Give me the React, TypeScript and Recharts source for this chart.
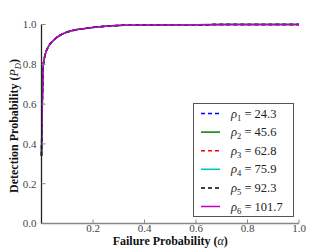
import { LineChart, Line, XAxis, YAxis, Legend } from "recharts";

// failure probability (alpha) sample points
const alphas = [0, 0.002, 0.004, 0.007, 0.0136, 0.026, 0.046, 0.072, 0.11, 0.162, 0.227, 0.32, 0.45, 0.6, 0.8, 1.0];

// detection probability per rho (curves overlap almost exactly)
const pd1 = [0.34, 0.52, 0.66, 0.795, 0.845, 0.887, 0.92, 0.946, 0.966, 0.979, 0.989, 0.996, 0.998, 0.999, 1.0, 1.0];
const pd2 = [0.34, 0.52, 0.66, 0.795, 0.845, 0.887, 0.92, 0.946, 0.966, 0.979, 0.989, 0.996, 0.998, 0.999, 1.0, 1.0];
const pd3 = [0.34, 0.52, 0.66, 0.795, 0.845, 0.887, 0.92, 0.946, 0.966, 0.979, 0.989, 0.996, 0.998, 0.999, 1.0, 1.0];
const pd4 = [0.34, 0.52, 0.66, 0.795, 0.845, 0.887, 0.92, 0.946, 0.966, 0.979, 0.989, 0.996, 0.998, 0.999, 1.0, 1.0];
const pd5 = [0.34, 0.52, 0.66, 0.795, 0.845, 0.887, 0.92, 0.946, 0.966, 0.979, 0.989, 0.996, 0.998, 0.999, 1.0, 1.0];
const pd6 = [0.34, 0.52, 0.66, 0.795, 0.845, 0.887, 0.92, 0.946, 0.966, 0.979, 0.989, 0.996, 0.998, 0.999, 1.0, 1.0];

const rhoValues = ["24.3", "45.6", "62.8", "75.9", "92.3", "101.7"];
const axisTicks = [0, 0.2, 0.4, 0.6, 0.8, 1.0];

const series = [
  { key: "r1", values: pd1, color: "#0000ff", dash: "4 3" },
  { key: "r2", values: pd2, color: "#008000", dash: undefined },
  { key: "r3", values: pd3, color: "#ff0000", dash: "4 3" },
  { key: "r4", values: pd4, color: "#00bfbf", dash: undefined },
  { key: "r5", values: pd5, color: "#000000", dash: "4 3" },
  { key: "r6", values: pd6, color: "#bf00bf", dash: undefined },
];

const data = alphas.map((a, i) => {
  const row: Record<string, number> = { alpha: a };
  series.forEach((s) => (row[s.key] = s.values[i]));
  return row;
});

const FONT = "'Liberation Serif', 'DejaVu Serif', serif";

function LegendBox() {
  return (
    <div style={{ width: 101, height: 114, border: "1px solid #555", background: "#fff", boxSizing: "border-box" }}>
      <svg width={99} height={112}>
        {series.map((s, i) => {
          const y = 9.5 + i * 18.6;
          return (
            <g key={s.key}>
              <line x1={7} x2={26} y1={y} y2={y} stroke={s.color} strokeWidth={1.5} strokeDasharray={s.dash} />
              <text x={37} y={y + 4} fontFamily={FONT} fontSize={12.5} fill="#222">
                <tspan fontStyle="italic">ρ</tspan>
                <tspan fontSize={8.5} dy={3}>{i + 1}</tspan>
                <tspan dy={-3}>{" = " + rhoValues[i]}</tspan>
              </text>
            </g>
          );
        })}
      </svg>
    </div>
  );
}

export default function App() {
  return (
    <div style={{ position: "absolute", left: 0, top: 0, background: "#fff" }}>
      <LineChart width={332} height={249} data={data} margin={{ top: 24.5, right: 33, left: 0, bottom: 0 }}>
        <XAxis
          dataKey="alpha"
          type="number"
          domain={[0, 1]}
          ticks={axisTicks}
          tickFormatter={(v: number) => (v === 0 ? "" : v.toFixed(1))}
          height={25.5}
          axisLine={{ stroke: "#888", strokeWidth: 1.3 }}
          tickLine={{ stroke: "#888" }}
          tickSize={-4}
          tickMargin={5}
          tick={{ fill: "#444", fontSize: 11, fontFamily: FONT }}
          label={(props: any) => {
            const vb = props.viewBox;
            return (
              <text x={vb.x + vb.width / 2} y={vb.y + 21} textAnchor="middle" fontFamily={FONT} fontSize={12} fontWeight="bold" fill="#111">
                Failure Probability (<tspan fontStyle="italic" fontWeight="normal">α</tspan>)
              </text>
            );
          }}
        />
        <XAxis
          xAxisId="top"
          orientation="top"
          type="number"
          domain={[0, 1]}
          ticks={axisTicks}
          height={0}
          axisLine={{ stroke: "#888", strokeWidth: 1.3 }}
          tickLine={{ stroke: "#888" }}
          tickSize={-4}
          tick={false}
        />
        <YAxis
          type="number"
          domain={[0, 1]}
          ticks={axisTicks}
          tickFormatter={(v: number) => v.toFixed(1)}
          width={41.5}
          axisLine={{ stroke: "#222", strokeWidth: 1.3 }}
          tickLine={{ stroke: "#888" }}
          tickSize={-4}
          tickMargin={9}
          tick={{ fill: "#444", fontSize: 11, fontFamily: FONT }}
          label={(props: any) => {
            const vb = props.viewBox;
            const cx = 18;
            const cy = vb.y + vb.height / 2 + 2;
            return (
              <text x={cx} y={cy} transform={`rotate(-90 ${cx} ${cy})`} textAnchor="middle" fontFamily={FONT} fontSize={12} fontWeight="bold" fill="#111">
                Detection Probability (<tspan fontStyle="italic" fontWeight="normal">P</tspan>
                <tspan fontStyle="italic" fontWeight="normal" fontSize={8.5} dy={3}>D</tspan>
                <tspan dy={-3}>)</tspan>
              </text>
            );
          }}
        />
        <YAxis
          yAxisId="right"
          orientation="right"
          type="number"
          domain={[0, 1]}
          ticks={axisTicks}
          width={0}
          axisLine={{ stroke: "#888", strokeWidth: 1.3 }}
          tickLine={{ stroke: "#888" }}
          tickSize={-4}
          tick={false}
        />
        {series.map((s) => (
          <Line
            key={s.key}
            dataKey={s.key}
            type="monotone"
            stroke={s.color}
            strokeWidth={1.5}
            strokeDasharray={s.dash}
            dot={false}
            activeDot={false}
            isAnimationActive={false}
          />
        ))}
        <Legend
          layout="horizontal"
          verticalAlign="middle"
          align="center"
          content={() => <LegendBox />}
          wrapperStyle={{ position: "absolute", left: 193, top: 103, width: 101, height: 114 }}
        />
      </LineChart>
    </div>
  );
}
